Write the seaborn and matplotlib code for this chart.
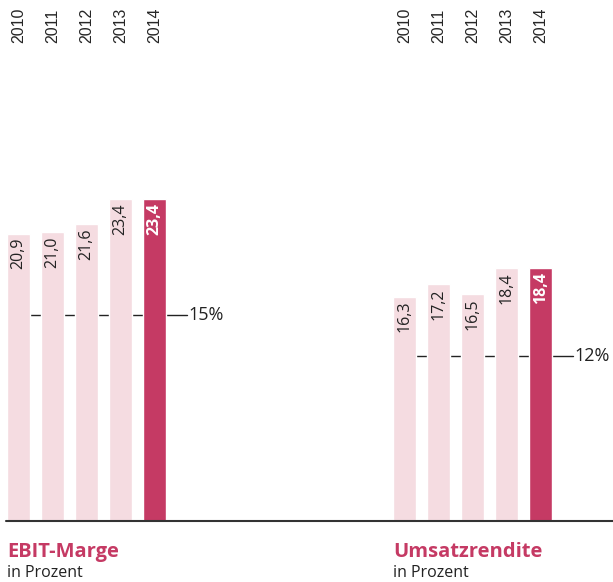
import pandas as pd
import matplotlib.pyplot as plt
import seaborn as sns

# Chart data
years = ["2010", "2011", "2012", "2013", "2014"]
ebit_marge = [20.9, 21.0, 21.6, 23.4, 23.4]
umsatzrendite = [16.3, 17.2, 16.5, 18.4, 18.4]
ebit_target = 15
umsatz_target = 12
titles = ["EBIT-Marge", "Umsatzrendite"]
subtitle = "in Prozent"

light = "#F5DCE1"
dark = "#C53A64"
palette = [light, light, light, light, dark]

sns.set_style("white")
plt.rcParams["font.family"] = ["Open Sans", "DejaVu Sans"]

fig = plt.figure(figsize=(6.13, 5.82), dpi=100)
W, H = 613, 582

# two panels sharing the same scale (px -> figure fraction)
ax1 = fig.add_axes([6 / W, 61 / H, 384 / W, 471 / H])
ax2 = fig.add_axes([390 / W, 61 / H, 223 / W, 471 / H])


def panel(ax, values, target, title, xlim, title_x):
    df = pd.DataFrame({"year": years, "value": values})
    # reference line behind the bars
    ax.plot([-0.3, 4.95], [target, target], color="#222222", lw=1, zorder=0)
    ax.text(5.0, target, f"{target}%", va="center", ha="left",
            fontsize=13, color="#222222")
    sns.barplot(data=df, x="year", y="value", hue="year", palette=palette,
                legend=False, width=0.68, saturation=1, ax=ax, zorder=2)
    for i, v in enumerate(values):
        last = i == len(values) - 1
        ax.text(i, v - 0.3, f"{v:.1f}".replace(".", ","), rotation=90,
                ha="center", va="top", fontsize=11.5,
                color="white" if last else "#222222",
                fontweight="bold" if last else "normal", zorder=3)
    ax.axhline(0, color="#333333", lw=1.5, clip_on=False, zorder=4)
    ax.set_xlim(*xlim)
    ax.set_ylim(0, 34.25)
    ax.xaxis.tick_top()
    ax.tick_params(axis="x", length=0, pad=5)
    ax.set_xticks(range(len(years)))
    ax.set_xticklabels(years, rotation=90, fontsize=11.5,
                       family=["Liberation Sans", "DejaVu Sans"])
    ax.set_yticks([])
    ax.set_xlabel("")
    ax.set_ylabel("")
    for s in ax.spines.values():
        s.set_visible(False)
    fig.text(title_x / W, 25 / H, title, fontsize=14.5, fontweight="bold",
             color=dark, va="baseline", ha="left")
    fig.text(title_x / W, 5 / H, subtitle, fontsize=11.5, color="#222222",
             va="baseline", ha="left")


panel(ax1, ebit_marge, ebit_target, titles[0], (-0.368, 10.92), 7)
panel(ax2, umsatzrendite, umsatz_target, titles[1], (-0.426, 6.13), 393)

fig.savefig("out.png", dpi=100)
